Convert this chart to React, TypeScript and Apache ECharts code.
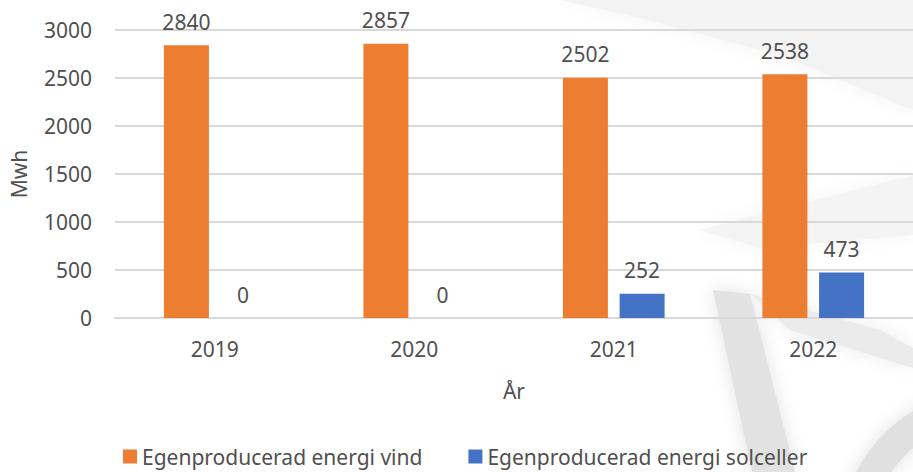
import React, { useEffect, useRef } from "react";
import * as echarts from "echarts";

const years = ["2019", "2020", "2021", "2022"];
const vind = [2840, 2857, 2502, 2538];
const solceller = [0, 0, 252, 473];
const seriesNames = ["Egenproducerad energi vind", "Egenproducerad energi solceller"];
const yTicks = { min: 0, max: 3000, interval: 500 };

const FONT = "'Noto Sans', 'Open Sans', sans-serif";
const TXT = "#505050";
const FS = 21;

export default function App() {
  const ref = useRef<HTMLDivElement>(null);
  useEffect(() => {
    const chart = echarts.init(ref.current!, null, { renderer: "svg" });
    const label = {
      show: true,
      position: "top" as const,
      distance: 13,
      color: TXT,
      fontSize: FS,
      fontFamily: FONT,
    };
    const soft = (fill: string) => ({ fill, shadowBlur: 18, shadowColor: fill });
    chart.setOption({
      animation: false,
      backgroundColor: "#ffffff",
      textStyle: { fontFamily: FONT },
      graphic: [
        {
          type: "polygon",
          z: -10,
          silent: true,
          shape: { points: [[560, 0], [913, 0], [913, 110], [780, 55], [640, 18]] },
          style: soft("#f3f3f3"),
        },
        {
          type: "polygon",
          z: -10,
          silent: true,
          shape: { points: [[700, 230], [913, 175], [913, 235], [760, 248]] },
          style: soft("#f4f4f4"),
        },
        {
          type: "polygon",
          z: -10,
          silent: true,
          shape: { points: [[713, 290], [750, 294], [795, 472], [752, 472]] },
          style: soft("#e2e2e2"),
        },
        {
          type: "polygon",
          z: -10,
          silent: true,
          shape: { points: [[750, 294], [880, 330], [913, 348], [913, 368], [790, 330]] },
          style: soft("#ebebeb"),
        },
        {
          type: "ring",
          z: -10,
          silent: true,
          shape: { cx: 990, cy: 540, r: 150, r0: 120 },
          style: soft("#e0e0e0"),
        },
      ],
      grid: { left: 115, right: -2, top: 30, bottom: 154, containLabel: false },
      legend: {
        left: 118,
        top: 441,
        itemWidth: 14,
        itemHeight: 14,
        itemGap: 46,
        icon: "rect",
        textStyle: { color: TXT, fontSize: FS, fontFamily: FONT },
        data: seriesNames,
      },
      xAxis: {
        type: "category",
        data: years,
        name: "År",
        nameLocation: "middle",
        nameGap: 62,
        nameTextStyle: { color: TXT, fontSize: FS, fontFamily: FONT },
        axisLine: { show: true, lineStyle: { color: "#d9d9d9", width: 2 } },
        axisTick: { show: false },
        axisLabel: { color: TXT, fontSize: FS, fontFamily: FONT, margin: 20 },
      },
      yAxis: {
        type: "value",
        min: yTicks.min,
        max: yTicks.max,
        interval: yTicks.interval,
        name: "Mwh",
        nameLocation: "middle",
        nameGap: 86,
        nameRotate: 90,
        nameTextStyle: { color: TXT, fontSize: FS, fontFamily: FONT },
        axisLine: { show: false },
        axisTick: { show: false },
        splitLine: { lineStyle: { color: "#d9d9d9", width: 2 } },
        axisLabel: {
          color: TXT,
          fontSize: FS,
          fontFamily: FONT,
          margin: 23,
          formatter: (v: number) => String(v),
        },
      },
      series: [
        {
          name: seriesNames[0],
          type: "bar",
          data: vind,
          barWidth: 45,
          barGap: "26%",
          itemStyle: { color: "#ED7D31" },
          label,
        },
        {
          name: seriesNames[1],
          type: "bar",
          data: solceller,
          barWidth: 45,
          barGap: "26%",
          itemStyle: { color: "#4472C4" },
          label,
        },
      ],
    });
    return () => chart.dispose();
  }, []);
  return (
    <div
      ref={ref}
      style={{ position: "fixed", left: 0, top: 0, width: 913, height: 472 }}
    />
  );
}
